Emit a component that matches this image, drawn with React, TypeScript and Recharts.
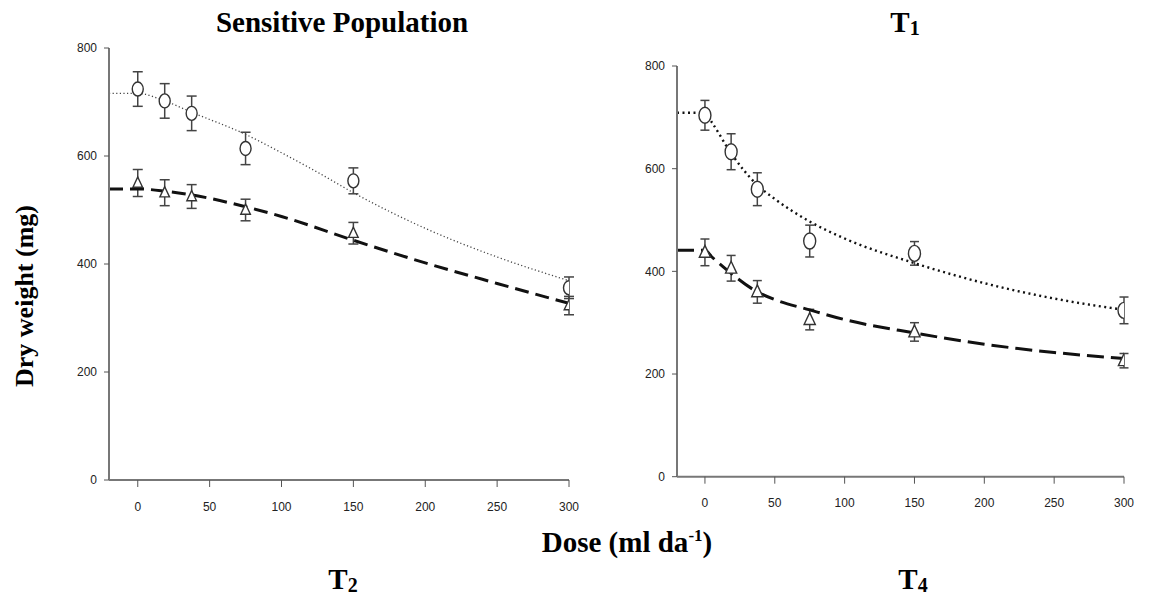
import React from 'react'
import { ComposedChart, Line, Scatter, ErrorBar, XAxis, YAxis } from 'recharts'

// doses used in both experiments
const doses = [0, 18.75, 37.5, 75, 150, 300]
const xTicks = [0, 50, 100, 150, 200, 250, 300]
const yTicks = [0, 200, 400, 600, 800]

// Sensitive population (left)
const leftCircleY = [724, 702, 679, 614, 554, 356]
const leftCircleErr = [32, 32, 32, 30, 24, 20]
const leftTriY = [550, 532, 525, 500, 457, 323]
const leftTriErr = [25, 24, 22, 20, 20, 17]

// fitted curves
const leftDotX = [-20, 0, 18.75, 37.5, 75, 100, 125, 150, 200, 250, 300]
const leftDotY = [716, 716, 702, 681, 640, 606, 570, 532, 466, 413, 369]
const leftDashX = [-20, 0, 18.75, 37.5, 75, 100, 150, 200, 250, 300]
const leftDashY = [539, 539, 535, 528, 506, 488, 444, 402, 364, 327]

// T1 (right)
const rightCircleY = [704, 633, 560, 459, 435, 324]
const rightCircleErr = [29, 35, 32, 31, 23, 26]
const rightTriY = [437, 406, 360, 306, 282, 226]
const rightTriErr = [26, 25, 22, 20, 18, 14]

const rightDotX = [-20, 0, 5, 18.75, 37.5, 50, 75, 100, 150, 200, 250, 300]
const rightDotY = [709, 709, 690, 630, 568, 541, 497, 464, 416, 377, 347, 325]
const rightDashX = [-20, 0, 5, 18.75, 37.5, 50, 75, 100, 150, 200, 250, 300]
const rightDashY = [441, 441, 428, 396, 360, 345, 325, 306, 280, 258, 242, 230]

const pts = (ys: number[], errs: number[]) => doses.map((x, i) => ({ x, y: ys[i], err: errs[i] }))
const curve = (xs: number[], ys: number[]) => xs.map((x, i) => ({ x, y: ys[i] }))

const tickStyle = { fontSize: 12, fill: '#222', fontFamily: 'Liberation Sans, Arial, sans-serif' }

const noShape = () => <g />
const circleShape = (rx: number, ry: number) => (p: any) => (
  <ellipse cx={p.cx} cy={p.cy} rx={rx} ry={ry} fill="#fff" stroke="#333" strokeWidth={1.4} />
)
const triShape = (s: number) => (p: any) => (
  <path
    d={`M${p.cx},${p.cy - s} L${p.cx + s * 0.8},${p.cy + s * 0.7} L${p.cx - s * 0.8},${p.cy + s * 0.7} Z`}
    fill="#fff" stroke="#333" strokeWidth={1.4}
  />
)

interface PanelProps {
  left: number
  width: number
  margin: { top: number; right: number; bottom: number; left: number }
  circles: { x: number; y: number; err: number }[]
  tris: { x: number; y: number; err: number }[]
  dotted: { x: number; y: number }[]
  dashed: { x: number; y: number }[]
  dotStyle: { stroke: string; width: number; dash: string }
  dashStyle: { width: number; dash: string }
  big?: boolean
}

function Panel(p: PanelProps) {
  const cap = p.big ? 4.5 : 5
  return (
    <div style={{ position: 'absolute', left: p.left, top: 0 }}>
      <ComposedChart width={p.width} height={540} margin={p.margin}>
        <XAxis
          dataKey="x" type="number" domain={[-20, 300]} ticks={xTicks} allowDataOverflow
          height={40} tick={tickStyle} tickSize={7} tickMargin={15}
          axisLine={{ stroke: '#777', strokeWidth: 2 }} tickLine={{ stroke: '#555' }}
        />
        <YAxis
          dataKey="y" type="number" domain={[0, 800]} ticks={yTicks} allowDataOverflow
          width={40} tick={tickStyle} tickSize={5} tickMargin={7}
          axisLine={{ stroke: '#777', strokeWidth: 2 }} tickLine={{ stroke: '#555' }}
        />
        {/* error bars first, markers drawn over them */}
        <Scatter data={p.circles} dataKey="y" shape={noShape} isAnimationActive={false}>
          <ErrorBar dataKey="err" direction="y" width={cap} stroke="#444" strokeWidth={1.5} />
        </Scatter>
        <Scatter data={p.tris} dataKey="y" shape={noShape} isAnimationActive={false}>
          <ErrorBar dataKey="err" direction="y" width={cap} stroke="#444" strokeWidth={1.5} />
        </Scatter>
        <Line
          data={p.dotted} dataKey="y" type="monotone" dot={false} activeDot={false}
          stroke={p.dotStyle.stroke} strokeWidth={p.dotStyle.width} strokeDasharray={p.dotStyle.dash}
          isAnimationActive={false}
        />
        <Line
          data={p.dashed} dataKey="y" type="monotone" dot={false} activeDot={false}
          stroke="#111" strokeWidth={p.dashStyle.width} strokeDasharray={p.dashStyle.dash}
          isAnimationActive={false}
        />
        <Scatter data={p.circles} dataKey="y" shape={circleShape(p.big ? 6 : 5.5, p.big ? 8 : 7)} isAnimationActive={false} />
        <Scatter data={p.tris} dataKey="y" shape={triShape(p.big ? 7 : 6)} isAnimationActive={false} />
      </ComposedChart>
    </div>
  )
}

const serif = 'Liberation Serif, Times New Roman, serif'

export default function App() {
  return (
    <div style={{ position: 'absolute', left: 0, top: 0, width: 1160, height: 596, background: '#fff', overflow: 'hidden' }}>
      <Panel
        left={0} width={600}
        margin={{ top: 48, right: 31, bottom: 20, left: 69 }}
        circles={pts(leftCircleY, leftCircleErr)}
        tris={pts(leftTriY, leftTriErr)}
        dotted={curve(leftDotX, leftDotY)}
        dashed={curve(leftDashX, leftDashY)}
        dotStyle={{ stroke: '#444', width: 1.3, dash: '1.2 2.4' }}
        dashStyle={{ width: 3, dash: '14 7' }}
      />
      <Panel
        left={600} width={560}
        margin={{ top: 66, right: 36, bottom: 23.3, left: 37 }}
        circles={pts(rightCircleY, rightCircleErr)}
        tris={pts(rightTriY, rightTriErr)}
        dotted={curve(rightDotX, rightDotY)}
        dashed={curve(rightDashX, rightDashY)}
        dotStyle={{ stroke: '#111', width: 2.4, dash: '2 3.5' }}
        dashStyle={{ width: 3, dash: '17 7' }}
        big
      />
      <svg width={1160} height={596} style={{ position: 'absolute', left: 0, top: 0, pointerEvents: 'none' }}>
        <g fontFamily={serif} fontWeight="bold" fill="#000">
          <text x={342} y={32} fontSize={29} textAnchor="middle">Sensitive Population</text>
          <text x={905} y={32} fontSize={29} textAnchor="middle">
            T<tspan fontSize={20} dy={3}>1</tspan>
          </text>
          <text x={627} y={552} fontSize={29} textAnchor="middle">
            Dose (ml da<tspan fontSize={17} dy={-11}>-1</tspan><tspan dy={11}>)</tspan>
          </text>
          <text x={343} y={589} fontSize={29} textAnchor="middle">
            T<tspan fontSize={20} dy={3}>2</tspan>
          </text>
          <text x={913} y={589} fontSize={29} textAnchor="middle">
            T<tspan fontSize={20} dy={3}>4</tspan>
          </text>
          <text transform="translate(33,296) rotate(-90)" fontSize={26} textAnchor="middle">Dry weight (mg)</text>
        </g>
      </svg>
    </div>
  )
}
